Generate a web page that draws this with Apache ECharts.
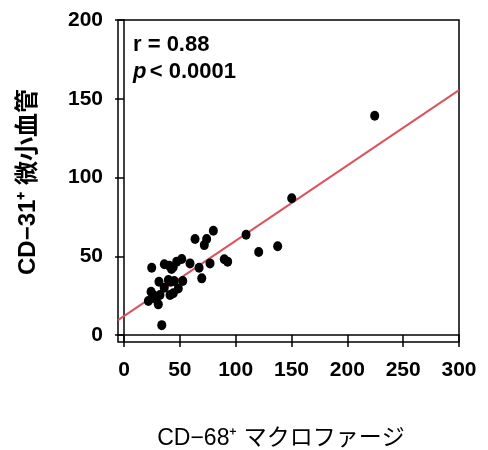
<!DOCTYPE html>
<html>
<head>
<meta charset="utf-8">
<script src="https://cdn.jsdelivr.net/npm/echarts@6/dist/echarts.min.js"></script>
<style>html,body{margin:0;padding:0;background:#fff}#c{width:488px;height:450px}</style>
</head>
<body>
<div id="c"></div>
<script>
// ---- data ----
const macrophageX = [224.5, 150.2, 109.3, 80, 63.6, 74, 71.9, 120.6, 137.6, 24.8, 36.1, 40.6, 44, 47.2, 51.7, 42.5, 59.1, 67.2, 77, 89.8, 92.8, 69.6, 52.6, 31.3, 39.7, 42.1, 45, 48.6, 44.1, 41.2, 24.2, 26.2, 21.8, 30.7, 32.2, 33.8, 36, 28];
const vesselY     = [139.2, 86.8, 63.7, 66.2, 61, 61, 57.1, 52.7, 56.4, 42.7, 44.9, 44, 43, 46.6, 48.3, 42, 45.5, 42.7, 45.5, 48.1, 46.6, 36, 34.3, 33.8, 34.9, 33.8, 34.3, 29.6, 26.5, 25.4, 27.5, 25.4, 21.6, 19.5, 25.4, 6.3, 30, 23];
const xTicks = [0, 50, 100, 150, 200, 250, 300];
const yTicks = [0, 50, 100, 150, 200];
const xRange = [-5.4, 300];
const yRange = [-4.4, 200];
const fitSlope = 0.478;
const fitIntercept = 12.1;
const statR = 'r = 0.88';
const statP = '< 0.0001';
const xTitle = 'CD\u221268\u207A マクロファージ';
const yTitle = 'CD\u221231\u207A 微小血管';

const points = macrophageX.map((x, i) => [x, vesselY[i]]);
const fitLine = xRange.map(x => [x, fitSlope * x + fitIntercept]);

const FONT = '"Liberation Sans", Arial, "Noto Sans CJK JP", sans-serif';
const chart = echarts.init(document.getElementById('c'), null, {renderer: 'canvas'});
chart.setOption({
  animation: false,
  backgroundColor: '#fff',
  grid: {left: 118, top: 20, width: 341, height: 322, show: true, borderColor: '#000', borderWidth: 1.5, backgroundColor: 'transparent'},
  xAxis: {
    type: 'value', min: xRange[0], max: xRange[1],
    axisLine: {show: true, lineStyle: {color: '#000', width: 1.5}},
    axisTick: {show: true, customValues: xTicks, length: 12, lineStyle: {color: '#000', width: 1.5}},
    axisLabel: {customValues: xTicks, margin: 18, color: '#000', fontSize: 21, fontWeight: 'bold', fontFamily: FONT},
    splitLine: {show: false}
  },
  yAxis: {
    type: 'value', min: yRange[0], max: yRange[1],
    axisLine: {show: true, lineStyle: {color: '#000', width: 1.5}},
    axisTick: {show: true, customValues: yTicks, length: 9, lineStyle: {color: '#000', width: 1.5}},
    axisLabel: {customValues: yTicks, margin: 15, color: '#000', fontSize: 21, fontWeight: 'bold', fontFamily: FONT},
    splitLine: {show: false}
  },
  series: [
    {
      type: 'line', data: fitLine, showSymbol: false, symbol: 'none',
      lineStyle: {color: '#d9545f', width: 2}, z: 2, silent: true
    },
    {
      type: 'scatter', data: points, symbol: 'circle', symbolSize: [9, 10],
      itemStyle: {color: '#000', opacity: 1}, z: 3
    }
  ],
  graphic: [
    {type: 'text', left: 133, top: 34, style: {text: statR, font: 'bold 22px ' + FONT, fill: '#000'}},
    {type: 'text', left: 133, top: 61, style: {
      text: '{i|p} {n|' + statP + '}',
      rich: {
        i: {font: 'italic bold 22px ' + FONT, fill: '#000'},
        n: {font: 'bold 22px ' + FONT, fill: '#000'}
      }
    }},
    {type: 'text', x: 281, y: 439, style: {text: xTitle, font: '23px ' + FONT, fill: '#000', align: 'center', verticalAlign: 'middle'}},
    {type: 'text', x: 28, y: 182, rotation: Math.PI / 2, style: {text: yTitle, font: 'bold 24px ' + FONT, fill: '#000', align: 'center', verticalAlign: 'middle'}}
  ]
});
</script>
</body>
</html>
